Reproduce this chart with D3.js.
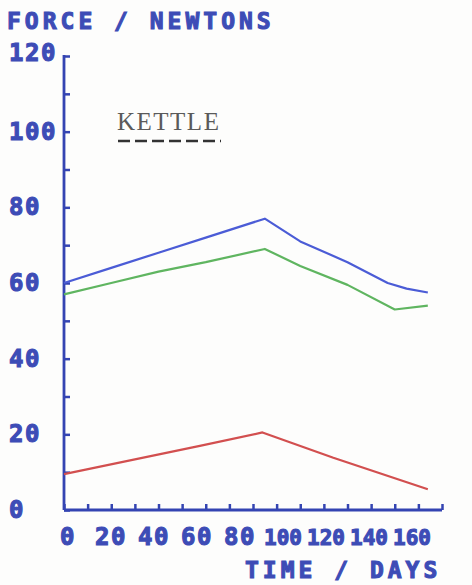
<!DOCTYPE html>
<html>
<head>
<meta charset="utf-8">
<script src="https://cdn.jsdelivr.net/npm/d3@7"></script>
<style>
  html, body { margin: 0; padding: 0; background: #fdfdfc; }
  svg { display: block; }
  .lbl { font-family: "DejaVu Sans Mono", "Liberation Mono", monospace; font-weight: 700; fill: #3d4cb6; stroke: #3d4cb6; stroke-width: 1.1px; }
</style>
</head>
<body>
<div id="chart"></div>
<script>
// ---- data ----
const days      = [0, 20, 40, 60, 85, 100, 120, 137, 145, 154];
const blueForce = [60, 64, 68, 72, 77, 71, 65.5, 60, 58.5, 57.5];
const greenDays = [0, 20, 40, 60, 85, 100, 120, 140, 154];
const greenForce= [57, 60, 63, 65.5, 69, 64.5, 59.5, 53, 54];
const redDays   = [0, 58, 84, 114, 154];
const redForce  = [9.5, 17, 20.5, 13.8, 5.5];
const xTickLabels = [0, 20, 40, 60, 80, 100, 120, 140, 160];
const yTickLabels = [0, 20, 40, 60, 80, 100, 120];
const yTitle = "FORCE / NEWTONS";
const xTitle = "TIME / DAYS";
const legendLabel = "KETTLE";

const W = 472, H = 585;
const svg = d3.select("#chart").append("svg").attr("width", W).attr("height", H);
svg.append("rect").attr("width", W).attr("height", H).attr("fill", "#fdfdfc");

const x = d3.scaleLinear().domain([0, 160]).range([64, 442]);
const y = d3.scaleLinear().domain([0, 120]).range([510, 56]);
const labelX = d3.scaleLinear().domain([0, 160]).range([68, 412]);

const axisColor = "#3444b2";

// y axis
const yAxis = d3.axisRight(y).tickValues(d3.range(0, 121, 10)).tickSize(6).tickFormat("");
const gy = svg.append("g").attr("transform", `translate(${x(0)},0)`).call(yAxis);
gy.select(".domain").remove();
gy.selectAll("line").attr("stroke", axisColor).attr("stroke-width", 2.5);
svg.append("line").attr("x1", x(0)).attr("x2", x(0)).attr("y1", y(120) - 1).attr("y2", y(0))
  .attr("stroke", axisColor).attr("stroke-width", 2.8);

// x axis
const xAxis = d3.axisTop(x).tickValues(d3.range(0, 161, 10)).tickSize(6).tickFormat("");
const gx = svg.append("g").attr("transform", `translate(0,${y(0)})`).call(xAxis);
gx.select(".domain").remove();
gx.selectAll("line").attr("stroke", axisColor).attr("stroke-width", 2.5);
svg.append("line").attr("x1", x(0)).attr("x2", x(160)).attr("y1", y(0)).attr("y2", y(0))
  .attr("stroke", axisColor).attr("stroke-width", 2.8);

// y tick labels
svg.selectAll(".ylab").data(yTickLabels).enter().append("text")
  .attr("class", "lbl")
  .attr("x", 9)
  .attr("y", d => y(d) + (d === 120 ? -2 : 1))
  .attr("dominant-baseline", "middle")
  .style("font-size", "24px").style("letter-spacing", "1.5px")
  .text(d => d);

// x tick labels
svg.selectAll(".xlab").data(xTickLabels).enter().append("text")
  .attr("class", "lbl")
  .attr("x", d => labelX(d))
  .attr("y", 545)
  .attr("text-anchor", "middle")
  .style("font-size", d => d >= 100 ? "21px" : "24px")
  .style("letter-spacing", d => d >= 100 ? "0px" : "1.5px")
  .text(d => d);

// titles
svg.append("text").attr("class", "lbl").attr("x", 7).attr("y", 29)
  .style("font-size", "23px").style("letter-spacing", "4px").text(yTitle);
svg.append("text").attr("class", "lbl").attr("x", 245).attr("y", 578)
  .style("font-size", "23px").style("letter-spacing", "4px").text(xTitle);

// legend
svg.append("text").attr("x", 117).attr("y", 130)
  .style("font-family", "'Liberation Serif', 'DejaVu Serif', serif")
  .style("font-size", "25px").style("letter-spacing", "1.5px")
  .attr("fill", "#5a5a5a").text(legendLabel);
svg.append("line").attr("x1", 118).attr("x2", 221).attr("y1", 141).attr("y2", 141)
  .attr("stroke", "#333").attr("stroke-width", 2.5).attr("stroke-dasharray", "12,5");

// lines
const line = d3.line().x(d => x(d[0])).y(d => y(d[1]));
const series = [
  { xs: days, ys: blueForce, color: "#4b5cd6" },
  { xs: greenDays, ys: greenForce, color: "#5fb560" },
  { xs: redDays, ys: redForce, color: "#d24f4f" }
];
series.forEach(s => {
  svg.append("path").datum(s.xs.map((d, i) => [d, s.ys[i]]))
    .attr("d", line).attr("fill", "none").attr("stroke", s.color)
    .attr("stroke-width", 2.2).attr("stroke-linejoin", "round");
});
</script>
</body>
</html>
